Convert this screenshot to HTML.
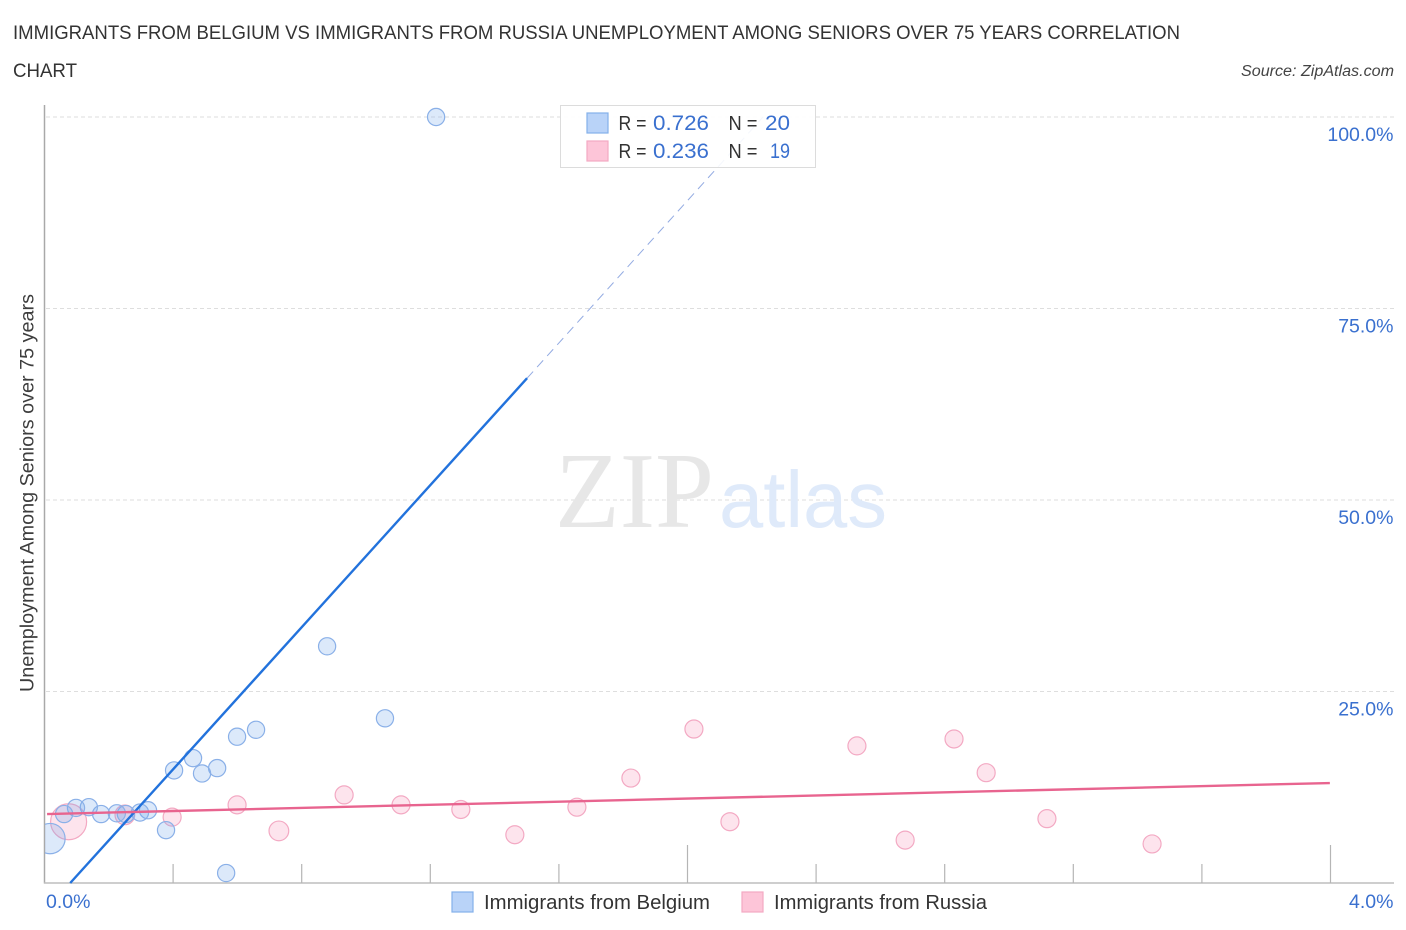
<!DOCTYPE html>
<html lang="en">
<head>
<meta charset="utf-8">
<title>Immigrants from Belgium vs Immigrants from Russia Correlation Chart</title>
<style>
html,body{margin:0;padding:0;background:#fff;width:1406px;height:930px;overflow:hidden}
svg{display:block;font-family:"Liberation Sans",sans-serif}
</style>
</head>
<body>
<svg id="chart" width="1406" height="930" viewBox="0 0 1406 930" xmlns="http://www.w3.org/2000/svg">
<defs><clipPath id="plot-clip"><rect x="45" y="100" width="1360" height="783"/></clipPath></defs>
<rect width="1406" height="930" fill="#fff"/>
<text x="13" y="39" font-size="19" fill="#333" textLength="1167" lengthAdjust="spacingAndGlyphs">IMMIGRANTS FROM BELGIUM VS IMMIGRANTS FROM RUSSIA UNEMPLOYMENT AMONG SENIORS OVER 75 YEARS CORRELATION</text>
<text x="13" y="77" font-size="19" fill="#333" textLength="64" lengthAdjust="spacingAndGlyphs">CHART</text>
<text x="1241" y="76" font-size="15.5" font-style="italic" fill="#444" textLength="153" lengthAdjust="spacingAndGlyphs">Source: ZipAtlas.com</text>
<text transform="translate(33.5,692) rotate(-90)" font-size="19" fill="#3d3d3d" textLength="398" lengthAdjust="spacingAndGlyphs">Unemployment Among Seniors over 75 years</text>
<g id="grid"></g>
<text x="555" y="527" font-family="'Liberation Serif',serif" font-size="108" fill="#e7e7e7" textLength="159" lengthAdjust="spacingAndGlyphs">ZIP</text>
<text x="719" y="527" font-size="80" fill="#dfeafa" textLength="168" lengthAdjust="spacingAndGlyphs">atlas</text>
<g id="axes"></g>
<g id="points" clip-path="url(#plot-clip)"></g>
<g id="trends"></g>
<g id="tick-labels"></g>

<g>
<rect x="560.5" y="105.5" width="255" height="62" fill="#fff" fill-opacity="0.9" stroke="#dcdcdc" stroke-width="1"/>
<rect x="587" y="113" width="21" height="20" fill="#b9d3f8" stroke="#84b0ea" stroke-width="1.2"/>
<rect x="587" y="141" width="21" height="20" fill="#fdc5d8" stroke="#f3a9c3" stroke-width="1.2"/>
<text x="618.5" y="130" font-size="20" fill="#333" textLength="28" lengthAdjust="spacingAndGlyphs">R =</text>
<text x="653" y="130" font-size="21" fill="#3a70cf" textLength="56" lengthAdjust="spacingAndGlyphs">0.726</text>
<text x="728.5" y="130" font-size="20" fill="#333" textLength="29" lengthAdjust="spacingAndGlyphs">N =</text>
<text x="765" y="130" font-size="21" fill="#3a70cf" textLength="25" lengthAdjust="spacingAndGlyphs">20</text>
<text x="618.5" y="158" font-size="20" fill="#333" textLength="28" lengthAdjust="spacingAndGlyphs">R =</text>
<text x="653" y="158" font-size="21" fill="#3a70cf" textLength="56" lengthAdjust="spacingAndGlyphs">0.236</text>
<text x="728.5" y="158" font-size="20" fill="#333" textLength="29" lengthAdjust="spacingAndGlyphs">N =</text>
<text x="770" y="158" font-size="21" fill="#3a70cf" textLength="20" lengthAdjust="spacingAndGlyphs">19</text>
</g>

<g>
<rect x="452" y="892" width="21" height="20" fill="#b9d3f8" stroke="#84b0ea" stroke-width="1.2"/>
<text x="484" y="909" font-size="20" fill="#333" textLength="226" lengthAdjust="spacingAndGlyphs">Immigrants from Belgium</text>
<rect x="742" y="892" width="21" height="20" fill="#fdc5d8" stroke="#f3a9c3" stroke-width="1.2"/>
<text x="774" y="909" font-size="20" fill="#333" textLength="213" lengthAdjust="spacingAndGlyphs">Immigrants from Russia</text>
</g>
</svg>

<script>
var belgiumX = [1.218,0.879,1.059,0.658,0.599,0.462,0.403,0.537,0.490,0.322,0.297,0.253,0.225,0.176,0.138,0.098,0.061,0.378,0.565,0.017];
var belgiumY = [100,30.9,21.5,20.0,19.1,16.3,14.7,15.0,14.3,9.5,9.2,9.0,9.1,9.0,9.9,9.8,9.0,6.9,1.3,5.8];
var belgiumWeight = [1,1,1,1,1,1,1,1,1,1,1,1,1,1,1,1,1,1,1,3.1];
var russiaX = [0.075,0.250,0.397,0.599,0.729,0.932,1.109,1.295,1.463,1.656,1.824,2.020,2.132,2.527,2.677,2.829,2.929,3.118,3.445];
var russiaY = [8.0,8.9,8.6,10.2,6.8,11.5,10.2,9.6,6.3,9.9,13.7,20.1,8.0,17.9,5.6,18.8,14.4,8.4,5.1];
var russiaWeight = [4,1.2,1,1,1.2,1,1,1,1,1,1,1,1,1,1,1,1,1,1];
var belgiumTrendX = [0.08,1.501];
var belgiumTrendY = [0,65.9];
var belgiumDashX = [1.501,2.235];
var belgiumDashY = [65.9,100];
var russiaTrendX = [0.008,3.998];
var russiaTrendY = [9.0,13.05];
var yTickValues = [25,50,75,100];
var yTickLabels = ["25.0%","50.0%","75.0%","100.0%"];
var xTickValues = [0.4,0.8,1.2,1.6,2.0,2.4,2.8,3.2,3.6,4.0];
var xMajorTicks = [2.0,4.0];
var xEndLabels = ["0.0%","4.0%"];

var NS = "http://www.w3.org/2000/svg";
function xScale(v){ return 44.5 + v * 321.5; }
function yScale(v){ return 883 - v * 7.66; }
function make(tag, parent, attrs){
  var el = document.createElementNS(NS, tag);
  for (var k in attrs) el.setAttribute(k, attrs[k]);
  parent.appendChild(el);
  return el;
}
var grid = document.getElementById("grid");
var axes = document.getElementById("axes");
var points = document.getElementById("points");
var trends = document.getElementById("trends");
var labels = document.getElementById("tick-labels");

yTickValues.forEach(function(v, i){
  var line = make("line", grid, {x1:46, x2:1394, y1:yScale(v), y2:yScale(v), stroke:"#dedede", "stroke-width":1, "stroke-dasharray":"4 3"});
  
  
  var t = make("text", labels, {x:1393.5, y:yScale(v) + 24, "text-anchor":"end", "font-size":19.5, fill:"#3a70cf"});
  t.textContent = yTickLabels[i];
  
  
});

var yAxis = make("line", axes, {x1:44.5, x2:44.5, y1:105, y2:883.5, stroke:"#a9a9a9", "stroke-width":1.5});


var xAxis = make("line", axes, {x1:44, x2:1394, y1:883, y2:883, stroke:"#bdbdbd", "stroke-width":1.5});



xTickValues.forEach(function(v){
  var major = xMajorTicks.indexOf(v) >= 0;
  var tick = make("line", axes, {x1:xScale(v), x2:xScale(v), y1:major ? 845 : 864, y2:883, stroke:"#b5b5b5", "stroke-width":1.2});
  
  
});

var xLabelStart = make("text", labels, {x:46, y:908, "font-size":19.5, fill:"#3a70cf"});
xLabelStart.textContent = xEndLabels[0];


var xLabelEnd = make("text", labels, {x:1393.5, y:908, "text-anchor":"end", "font-size":19.5, fill:"#3a70cf"});
xLabelEnd.textContent = xEndLabels[1];



russiaX.forEach(function(v, i){
  var c = make("circle", points, {cx:xScale(v), cy:yScale(russiaY[i]), r:9 * Math.sqrt(russiaWeight[i]), fill:"#f58fb2", "fill-opacity":0.24, stroke:"#f3a9c3", "stroke-width":1.2});
  
  
});
belgiumX.forEach(function(v, i){
  var c = make("circle", points, {cx:xScale(v), cy:yScale(belgiumY[i]), r:8.6 * Math.sqrt(belgiumWeight[i]), fill:"#6ea3ec", "fill-opacity":0.24, stroke:"#8ab0e8", "stroke-width":1.2});
  
  
});

var dash = make("line", trends, {x1:xScale(belgiumDashX[0]), y1:yScale(belgiumDashY[0]), x2:xScale(belgiumDashX[1]), y2:yScale(belgiumDashY[1]), stroke:"#6f8fd8", "stroke-width":1, "stroke-opacity":0.75, "stroke-dasharray":"9 6"});


var belgiumTrend = make("line", trends, {x1:xScale(belgiumTrendX[0]), y1:yScale(belgiumTrendY[0]), x2:xScale(belgiumTrendX[1]), y2:yScale(belgiumTrendY[1]), stroke:"#2272dc", "stroke-width":2.4});


var russiaTrend = make("line", trends, {x1:xScale(russiaTrendX[0]), y1:yScale(russiaTrendY[0]), x2:xScale(russiaTrendX[1]), y2:yScale(russiaTrendY[1]), stroke:"#e8648f", "stroke-width":2.4});


</script>
</body>
</html>
